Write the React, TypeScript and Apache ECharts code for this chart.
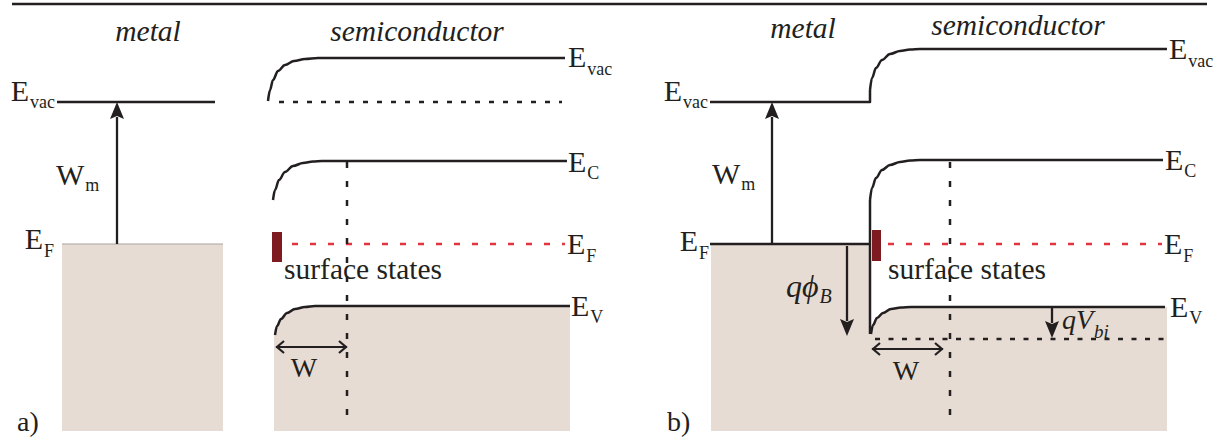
import React, { useEffect, useRef } from "react";
import * as echarts from "echarts";

const WIDTH = 1226;
const HEIGHT = 441;

const SERIF = "'Liberation Serif', 'Times New Roman', serif";
const INK = "#231f20";
const SUBSTRATE = "#e7dcd3";
const FERMI_RED = "#e3353f";
const STATE_RED = "#7e1b21";
const BAND_W = 2.5;

type Pt = [number, number];

// rule across the top of the figure
const topRule: Pt[] = [[12, 4], [1207, 4]];

// ---- (a) metal and semiconductor apart ----
const metalVacA: Pt[] = [[57, 102], [215, 102]];
const semiVacA: Pt[] = [[268, 101], [270, 90], [273, 80], [278, 71], [285, 65], [294, 61], [305, 59], [318, 58], [565, 58]];
const vacRefA: Pt[] = [[279, 102], [562, 102]];
const condA: Pt[] = [[273, 200], [275, 190], [279, 180], [285, 172], [293, 166], [303, 163], [313, 161.5], [322, 161], [567, 161]];
const valA: Pt[] = [[275, 335], [277, 326], [281, 319], [287, 313], [295, 309], [305, 307], [315, 306], [323, 306], [570, 306]];
const fermiSemiA: Pt[] = [[292, 244], [565, 244]];
const metalTopA: Pt[] = [[62, 244], [223, 244]];
const depletionEdgeA: Pt[] = [[347, 162], [347, 424]];
const metalBoxA: Pt[] = [[62, 244], [223, 244], [223, 431], [62, 431]];
const semiBoxA: Pt[] = [...valA, [570, 431], [274, 431], [274, 335]];
const statesA: [Pt, Pt] = [[272, 232], [282, 262]];

// ---- (b) metal–semiconductor contact ----
const metalVacB: Pt[] = [[710, 102], [870, 102], [870, 90]];
const vacBendB: Pt[] = [[870, 90], [872, 78], [876, 68], [882, 60], [890, 54], [900, 51], [910, 49.5], [920, 49], [1167, 49]];
const condB: Pt[] = [[870, 200], [872, 188], [876, 178], [882, 170], [890, 165], [900, 162], [910, 160.5], [920, 160], [1163, 160]];
const interfaceB: Pt[] = [[870, 200], [870, 334]];
const valB: Pt[] = [[871, 334], [873, 325], [877, 318], [883, 313], [891, 309], [901, 307.5], [911, 307], [920, 307], [1165, 307]];
const fermiMetalB: Pt[] = [[710, 244], [870, 244]];
const fermiSemiB: Pt[] = [[888, 244], [1162, 244]];
const vbiRefB: Pt[] = [[875, 339], [1165, 339]];
const depletionEdgeB: Pt[] = [[950, 162], [950, 424]];
const metalBoxB: Pt[] = [[711, 244], [870, 244], [870, 431], [711, 431]];
const semiBoxB: Pt[] = [...valB, [1167, 307], [1167, 431], [870, 431], [870, 334]];
const statesB: [Pt, Pt] = [[872, 230], [881, 261]];

// filled arrows: tail, tip
const filledArrows: [Pt, Pt][] = [
  [[117, 244], [117, 102]], // W_m (a)
  [[772, 244], [772, 102]], // W_m (b)
  [[847, 246], [847, 336]], // q phi_B
  [[1052, 307], [1052, 338]], // q V_bi
];
// open double-headed arrows for the depletion width
const spanArrows: [Pt, Pt][] = [
  [[276, 347], [347, 347]],
  [[872, 349], [943, 349]],
];

// label texts
type Label = {
  at: Pt;
  text: string;
  sub?: string;
  subDrop?: number;
  anchor: "start" | "middle" | "end";
  kind: "title" | "band" | "plain" | "note" | "math" | "mathBig";
};

const labels: Label[] = [
  { at: [148, 41], text: "metal", anchor: "middle", kind: "title" },
  { at: [417, 41], text: "semiconductor", anchor: "middle", kind: "title" },
  { at: [803, 38], text: "metal", anchor: "middle", kind: "title" },
  { at: [1018, 35], text: "semiconductor", anchor: "middle", kind: "title" },

  { at: [55, 101], text: "E", sub: "vac", subDrop: 7, anchor: "end", kind: "band" },
  { at: [54, 249], text: "E", sub: "F", subDrop: 8, anchor: "end", kind: "band" },
  { at: [568, 67], text: "E", sub: "vac", subDrop: 8, anchor: "start", kind: "band" },
  { at: [568, 172], text: "E", sub: "C", subDrop: 7, anchor: "start", kind: "band" },
  { at: [567, 254], text: "E", sub: "F", subDrop: 8, anchor: "start", kind: "band" },
  { at: [571, 316], text: "E", sub: "V", subDrop: 7, anchor: "start", kind: "band" },

  { at: [708, 101], text: "E", sub: "vac", subDrop: 7, anchor: "end", kind: "band" },
  { at: [709, 251], text: "E", sub: "F", subDrop: 8, anchor: "end", kind: "band" },
  { at: [1169, 59], text: "E", sub: "vac", subDrop: 8, anchor: "start", kind: "band" },
  { at: [1165, 170], text: "E", sub: "C", subDrop: 7, anchor: "start", kind: "band" },
  { at: [1164, 254], text: "E", sub: "F", subDrop: 8, anchor: "start", kind: "band" },
  { at: [1170, 317], text: "E", sub: "V", subDrop: 7, anchor: "start", kind: "band" },

  { at: [56, 185], text: "W", sub: "m", subDrop: 6, anchor: "start", kind: "band" },
  { at: [712, 184], text: "W", sub: "m", subDrop: 6, anchor: "start", kind: "band" },
  { at: [304, 377], text: "W", anchor: "middle", kind: "plain" },
  { at: [906, 380], text: "W", anchor: "middle", kind: "plain" },
  { at: [284, 279], text: "surface states", anchor: "start", kind: "note" },
  { at: [888, 279], text: "surface states", anchor: "start", kind: "note" },
  { at: [786, 297], text: "q\u03d5", sub: "B", subDrop: 6, anchor: "start", kind: "mathBig" },
  { at: [1062, 329], text: "qV", sub: "bi", subDrop: 9, anchor: "start", kind: "math" },
  { at: [17, 431], text: "a)", anchor: "start", kind: "plain" },
  { at: [667, 431], text: "b)", anchor: "start", kind: "plain" },
];

const fontFor: Record<Label["kind"], { size: number; subSize: number; italic: boolean }> = {
  title: { size: 29.5, subSize: 18, italic: true },
  band: { size: 30, subSize: 18, italic: false },
  plain: { size: 28, subSize: 18, italic: false },
  note: { size: 29.5, subSize: 18, italic: false },
  math: { size: 28, subSize: 19, italic: true },
  mathBig: { size: 32, subSize: 20, italic: true },
};

let measureCtx: CanvasRenderingContext2D | null = null;
function textWidth(text: string, size: number, italic: boolean): number {
  if (!measureCtx) measureCtx = document.createElement("canvas").getContext("2d");
  if (!measureCtx) return text.length * size * 0.5;
  measureCtx.font = `${italic ? "italic " : ""}${size}px ${SERIF}`;
  return measureCtx.measureText(text).width;
}

function textEl(x: number, baseline: number, text: string, size: number, italic: boolean) {
  return {
    type: "text",
    x,
    y: baseline - 0.3375 * size,
    style: {
      text,
      fill: INK,
      fontFamily: SERIF,
      fontSize: size,
      fontStyle: italic ? "italic" : "normal",
      align: "left",
      verticalAlign: "middle",
    },
  };
}

function lineSeries(data: Pt[], color = INK, width = BAND_W, dash?: number[], smooth = false) {
  return {
    type: "line",
    data,
    symbol: "none",
    silent: true,
    smooth: smooth ? 0.35 : false,
    smoothMonotone: "x",
    lineStyle: { color, width, type: dash ?? "solid", cap: "butt", join: "round" },
    z: 3,
  };
}

export default function App() {
  const ref = useRef<HTMLDivElement>(null);

  useEffect(() => {
    if (!ref.current) return;
    const chart = echarts.init(ref.current, undefined, { renderer: "svg" });

    const fills = [metalBoxA, semiBoxA, metalBoxB, semiBoxB];
    const states = [statesA, statesB];

    chart.setOption({
      animation: false,
      backgroundColor: "#ffffff",
      grid: { left: 0, right: 0, top: 0, bottom: 0 },
      xAxis: { type: "value", min: 0, max: WIDTH, show: false },
      yAxis: { type: "value", min: 0, max: HEIGHT, inverse: true, show: false },
      series: [
        {
          type: "custom",
          coordinateSystem: "cartesian2d",
          silent: true,
          z: 1,
          data: fills.map((f) => f[0]),
          renderItem: (params: any, api: any) => ({
            type: "polygon",
            shape: { points: fills[params.dataIndex].map((p) => api.coord(p)) },
            style: { fill: SUBSTRATE },
          }),
        },
        lineSeries(topRule, INK, 2.5),
        // (a)
        lineSeries(metalVacA),
        lineSeries(metalTopA, "#aaa29c", 1),
        lineSeries(semiVacA, INK, BAND_W, undefined, true),
        lineSeries(vacRefA, INK, 2.5, [5, 9]),
        lineSeries(condA, INK, BAND_W, undefined, true),
        lineSeries(valA, INK, BAND_W, undefined, true),
        lineSeries(fermiSemiA, FERMI_RED, 2.5, [6, 12]),
        lineSeries(depletionEdgeA, INK, 2.5, [6, 13]),
        // (b)
        lineSeries(metalVacB),
        lineSeries(vacBendB, INK, BAND_W, undefined, true),
        lineSeries(condB, INK, BAND_W, undefined, true),
        lineSeries(interfaceB),
        lineSeries(valB, INK, BAND_W, undefined, true),
        lineSeries(fermiMetalB),
        lineSeries(fermiSemiB, FERMI_RED, 2.5, [6, 12]),
        lineSeries(vbiRefB, INK, 2.5, [5, 8.5]),
        lineSeries(depletionEdgeB, INK, 2.5, [6, 13]),
        {
          type: "custom",
          coordinateSystem: "cartesian2d",
          silent: true,
          z: 4,
          data: states.map((s) => s[0]),
          renderItem: (params: any, api: any) => {
            const [a, b] = states[params.dataIndex];
            const p = api.coord(a);
            const q = api.coord(b);
            return {
              type: "rect",
              shape: { x: p[0], y: p[1], width: q[0] - p[0], height: q[1] - p[1] },
              style: { fill: STATE_RED },
            };
          },
        },
        {
          type: "custom",
          coordinateSystem: "cartesian2d",
          silent: true,
          z: 5,
          data: filledArrows.map((a) => a[1]),
          renderItem: (params: any, api: any) => {
            const [from, to] = filledArrows[params.dataIndex];
            const t = api.coord(to);
            const f = api.coord(from);
            const dx = t[0] - f[0];
            const dy = t[1] - f[1];
            const len = Math.hypot(dx, dy) || 1;
            const ux = dx / len;
            const uy = dy / len;
            const head = Math.min(17, len * 0.6);
            const half = 7;
            const bx = t[0] - ux * head;
            const by = t[1] - uy * head;
            return {
              type: "group",
              children: [
                {
                  type: "line",
                  shape: { x1: f[0], y1: f[1], x2: bx + ux * 2, y2: by + uy * 2 },
                  style: { stroke: INK, lineWidth: 2.3 },
                },
                {
                  type: "polygon",
                  shape: {
                    points: [
                      [t[0], t[1]],
                      [bx - uy * half, by + ux * half],
                      [bx + ux * 3, by + uy * 3],
                      [bx + uy * half, by - ux * half],
                    ],
                  },
                  style: { fill: INK },
                },
              ],
            };
          },
        },
        {
          type: "custom",
          coordinateSystem: "cartesian2d",
          silent: true,
          z: 5,
          data: spanArrows.map((a) => a[0]),
          renderItem: (params: any, api: any) => {
            const [a, b] = spanArrows[params.dataIndex];
            const p = api.coord(a);
            const q = api.coord(b);
            const h = 8;
            const w = 6;
            const st = { stroke: INK, lineWidth: 2.2, fill: "none" };
            return {
              type: "group",
              children: [
                { type: "line", shape: { x1: p[0], y1: p[1], x2: q[0], y2: q[1] }, style: st },
                { type: "polyline", shape: { points: [[p[0] + h, p[1] - w], [p[0] + 1, p[1]], [p[0] + h, p[1] + w]] }, style: st },
                { type: "polyline", shape: { points: [[q[0] - h, q[1] - w], [q[0] - 1, q[1]], [q[0] - h, q[1] + w]] }, style: st },
              ],
            };
          },
        },
        {
          type: "custom",
          coordinateSystem: "cartesian2d",
          silent: true,
          z: 6,
          data: labels.map((l) => l.at),
          renderItem: (params: any, api: any) => {
            const l = labels[params.dataIndex];
            const f = fontFor[l.kind];
            const p = api.coord(l.at);
            const mainW = textWidth(l.text, f.size, f.italic);
            const subW = l.sub ? textWidth(l.sub, f.subSize, f.italic) : 0;
            const total = mainW + (l.sub ? subW + 1 : 0);
            const x0 = l.anchor === "end" ? p[0] - total : l.anchor === "middle" ? p[0] - total / 2 : p[0];
            const children: any[] = [textEl(x0, p[1], l.text, f.size, f.italic)];
            if (l.sub) {
              children.push(textEl(x0 + mainW + 1, p[1] + (l.subDrop ?? 7), l.sub, f.subSize, f.italic));
            }
            return { type: "group", children };
          },
        },
      ],
    });

    return () => chart.dispose();
  }, []);

  return (
    <div
      ref={ref}
      style={{ position: "absolute", left: 0, top: 0, width: WIDTH, height: HEIGHT, background: "#fff" }}
    />
  );
}
